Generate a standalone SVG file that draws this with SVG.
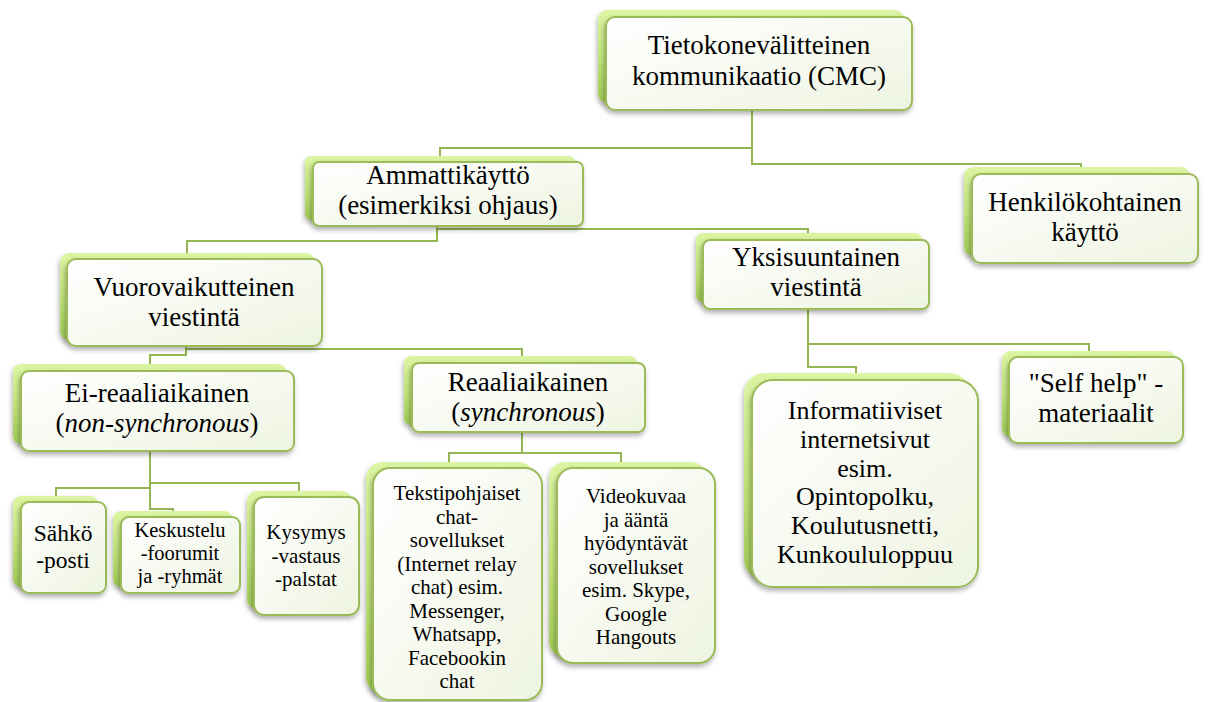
<svg xmlns="http://www.w3.org/2000/svg" width="1213" height="702" viewBox="0 0 1213 702">
<defs>
  <linearGradient id="gBack" x1="0" y1="0" x2="0" y2="1">
    <stop offset="0" stop-color="#dcf5a4"/>
    <stop offset="0.5" stop-color="#c2e57c"/>
    <stop offset="1" stop-color="#a0c956"/>
  </linearGradient>
  <linearGradient id="gFront" x1="0" y1="0" x2="1" y2="1">
    <stop offset="0" stop-color="#ffffff"/>
    <stop offset="1" stop-color="#eef4e1"/>
  </linearGradient>
  <filter id="sh" x="-20%" y="-20%" width="140%" height="140%">
    <feDropShadow dx="-1" dy="3" stdDeviation="2.5" flood-color="#000" flood-opacity="0.3"/>
  </filter>
</defs>
<style>
  .back { fill: url(#gBack); filter: url(#sh); }
  .front { fill: url(#gFront); stroke: #9bbb59; stroke-width: 2; filter: url(#sh); }
  .conn path { fill: none; stroke: #94b553; stroke-width: 2; }
  text { font-family: "Liberation Serif", "Times New Roman", serif; fill: #000; text-anchor: middle; }
  .t27 { font-size: 27px; }
  .t26 { font-size: 26px; }
  .t23 { font-size: 23.5px; }
  .t21 { font-size: 21px; }
  .t20 { font-size: 20.5px; }
  .it { font-style: italic; }
</style>
<rect width="1213" height="702" fill="#ffffff"/>

<g id="connectors" class="conn">
  <path d="M752,110 V148 H440 V162"/>
  <path d="M752,148 V164 H1081 V174"/>
  <path d="M437,226 V241 H187 V259"/>
  <path d="M437,229 H808 V240"/>
  <path d="M186,346 V355 H150 V371"/>
  <path d="M186,349 H522 V363"/>
  <path d="M150,451 V488 H56 V502"/>
  <path d="M150,488 V509 H173 V517"/>
  <path d="M150,483 H299 V497"/>
  <path d="M522,432 V453 H449 V468"/>
  <path d="M522,453 H621 V468"/>
  <path d="M808,309 V367 H856 V380"/>
  <path d="M808,344 H1089 V357"/>
</g>

<g id="node-top">
  <rect class="back" x="598" y="10" width="306" height="93" rx="9"/>
  <rect class="front" x="606" y="17" width="306" height="93" rx="9"/>
  <text class="t27"><tspan x="759" y="54">Tietokonevälitteinen</tspan><tspan x="759" y="85">kommunikaatio (CMC)</tspan></text>
</g>

<g id="node-ammatti">
  <rect class="back" x="305" y="156" width="270" height="64" rx="6"/>
  <rect class="front" x="313" y="162" width="270" height="64" rx="6"/>
  <text class="t27"><tspan x="448" y="184">Ammattikäyttö</tspan><tspan x="448" y="214">(esimerkiksi ohjaus)</tspan></text>
</g>

<g id="node-henk">
  <rect class="back" x="964" y="167" width="226" height="89" rx="9"/>
  <rect class="front" x="972" y="174" width="226" height="89" rx="9"/>
  <text class="t27"><tspan x="1085" y="211">Henkilökohtainen</tspan><tspan x="1085" y="241">käyttö</tspan></text>
</g>

<g id="node-vuoro">
  <rect class="back" x="60" y="253" width="255" height="87" rx="9"/>
  <rect class="front" x="67" y="259" width="255" height="87" rx="9"/>
  <text class="t27"><tspan x="194" y="296">Vuorovaikutteinen</tspan><tspan x="194" y="326">viestintä</tspan></text>
</g>

<g id="node-yksi">
  <rect class="back" x="696" y="233" width="226" height="69" rx="7"/>
  <rect class="front" x="703" y="240" width="226" height="69" rx="7"/>
  <text class="t27"><tspan x="816" y="266">Yksisuuntainen</tspan><tspan x="816" y="296">viestintä</tspan></text>
</g>

<g id="node-ei">
  <rect class="back" x="13" y="364" width="273" height="80" rx="8"/>
  <rect class="front" x="21" y="371" width="273" height="80" rx="8"/>
  <text class="t27"><tspan x="157" y="402">Ei-reaaliaikainen</tspan><tspan x="157" y="432">(<tspan class="it">non-synchronous</tspan>)</tspan></text>
</g>

<g id="node-reaali">
  <rect class="back" x="404" y="356" width="233" height="69" rx="7"/>
  <rect class="front" x="412" y="363" width="233" height="69" rx="7"/>
  <text class="t27"><tspan x="528" y="391">Reaaliaikainen</tspan><tspan x="528" y="421">(<tspan class="it">synchronous</tspan>)</tspan></text>
</g>

<g id="node-sahko">
  <rect class="back" x="13" y="496" width="85" height="91" rx="8"/>
  <rect class="front" x="21" y="502" width="85" height="91" rx="8"/>
  <text class="t23"><tspan x="63" y="541">Sähkö</tspan><tspan x="63" y="567.5">-posti</tspan></text>
</g>

<g id="node-kesk">
  <rect class="back" x="113" y="511" width="119" height="76" rx="8"/>
  <rect class="front" x="121" y="517" width="119" height="76" rx="8"/>
  <text class="t20"><tspan x="180" y="537">Keskustelu</tspan><tspan x="180" y="560">-foorumit</tspan><tspan x="180" y="583">ja -ryhmät</tspan></text>
</g>

<g id="node-kysy">
  <rect class="back" x="247" y="491" width="105" height="118" rx="10"/>
  <rect class="front" x="254" y="497" width="105" height="118" rx="10"/>
  <text class="t21"><tspan x="306" y="539">Kysymys</tspan><tspan x="306" y="562.5">-vastaus</tspan><tspan x="306" y="586">-palstat</tspan></text>
</g>

<g id="node-tekst">
  <rect class="back" x="366" y="462" width="169" height="232" rx="17"/>
  <rect class="front" x="373" y="468" width="169" height="232" rx="17"/>
  <text class="t21"><tspan x="457" y="500">Tekstipohjaiset</tspan><tspan x="457" y="523.5">chat-</tspan><tspan x="457" y="547">sovellukset</tspan><tspan x="457" y="570.5">(Internet relay</tspan><tspan x="457" y="594">chat) esim.</tspan><tspan x="457" y="617.5">Messenger,</tspan><tspan x="457" y="641">Whatsapp,</tspan><tspan x="457" y="664.5">Facebookin</tspan><tspan x="457" y="688">chat</tspan></text>
</g>

<g id="node-video">
  <rect class="back" x="549" y="462" width="158" height="195" rx="16"/>
  <rect class="front" x="557" y="468" width="158" height="195" rx="16"/>
  <text class="t21"><tspan x="636" y="503">Videokuvaa</tspan><tspan x="636" y="526.5">ja ääntä</tspan><tspan x="636" y="550">hyödyntävät</tspan><tspan x="636" y="573.5">sovellukset</tspan><tspan x="636" y="597">esim. Skype,</tspan><tspan x="636" y="620.5">Google</tspan><tspan x="636" y="644">Hangouts</tspan></text>
</g>

<g id="node-info">
  <rect class="back" x="744" y="373" width="226" height="207" rx="21"/>
  <rect class="front" x="752" y="380" width="226" height="207" rx="21"/>
  <text class="t26"><tspan x="865" y="419">Informatiiviset</tspan><tspan x="865" y="447.8">internetsivut</tspan><tspan x="865" y="476.6">esim.</tspan><tspan x="865" y="505.4">Opintopolku,</tspan><tspan x="865" y="534.2">Koulutusnetti,</tspan><tspan x="865" y="563">Kunkoululoppuu</tspan></text>
</g>

<g id="node-self">
  <rect class="back" x="1002" y="351" width="174" height="86" rx="9"/>
  <rect class="front" x="1009" y="357" width="174" height="86" rx="9"/>
  <text class="t27"><tspan x="1096" y="392">"Self help" -</tspan><tspan x="1096" y="422">materiaalit</tspan></text>
</g>
</svg>
